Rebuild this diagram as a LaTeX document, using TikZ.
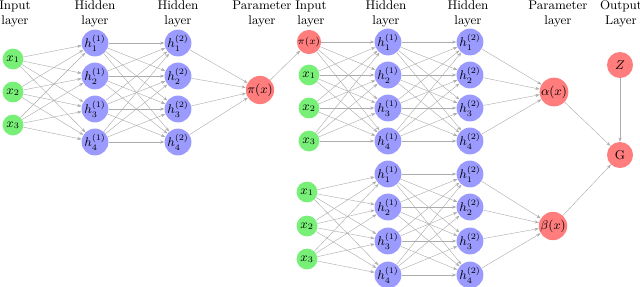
\documentclass[tikz,border=0pt]{standalone}
\usetikzlibrary{arrows.meta}
\definecolor{ingreen}{RGB}{120,240,120}
\definecolor{hidblue}{RGB}{155,155,255}
\definecolor{parred}{RGB}{255,125,125}
\begin{document}
\begin{tikzpicture}[x=0.025cm,y=-0.025cm,>={Stealth[length=3pt,width=2.2pt]},
  neuron/.style={circle,inner sep=0pt,minimum size=0.52cm,font=\small},
  inputn/.style={neuron,fill=ingreen},
  hiddenn/.style={neuron,fill=hidblue},
  paramn/.style={neuron,fill=parred,minimum size=0.62cm},
  edge/.style={->,gray!65,line width=0.3pt},
  lab/.style={align=center,font=\small,inner sep=0pt}]
\useasboundingbox (0,0) rectangle (640,286);
% layer labels
\node[lab] at (15,14) {Input\\layer};
\node[lab] at (95,14) {Hidden\\layer};
\node[lab] at (178,14) {Hidden\\layer};
\node[lab] at (262,14) {Parameter\\layer};
\node[lab] at (311,14) {Input\\layer};
\node[lab] at (386,14) {Hidden\\layer};
\node[lab] at (468,14) {Hidden\\layer};
\node[lab] at (558,14) {Parameter\\layer};
\node[lab] at (621,14) {Output\\Layer};
% left network
\foreach \i/\y in {1/59,2/92,3/125}
  \node[inputn] (a\i) at (13,\y) {$x_{\i}$};
\foreach \i/\y in {1/43,2/76,3/109,4/142}
  \node[hiddenn] (b\i) at (95,\y) {$h^{(1)}_{\i}$};
\foreach \i/\y in {1/43,2/76,3/109,4/142}
  \node[hiddenn] (c\i) at (178,\y) {$h^{(2)}_{\i}$};
\node[paramn] (pi) at (260,90) {$\pi(x)$};
\foreach \i in {1,2,3}
  \foreach \j in {1,...,4}
    \draw[edge] (a\i) -- (b\j);
\foreach \i in {1,...,4}
  \foreach \j in {1,...,4}
    \draw[edge] (b\i) -- (c\j);
\foreach \i in {1,...,4}
  \draw[edge] (c\i) -- (pi);
% right top network
\node[neuron,fill=parred,font=\scriptsize] (tx0) at (309,42) {$\pi(x)$};
\foreach \i/\y in {1/75,2/108,3/141}
  \node[inputn] (tx\i) at (309,\y) {$x_{\i}$};
\foreach \i/\y in {1/42,2/75,3/108,4/141}
  \node[hiddenn] (th\i) at (388,\y) {$h^{(1)}_{\i}$};
\foreach \i/\y in {1/42,2/75,3/108,4/141}
  \node[hiddenn] (tk\i) at (470,\y) {$h^{(2)}_{\i}$};
\node[paramn] (al) at (554,92) {$\alpha(x)$};
\foreach \i in {0,...,3}
  \foreach \j in {1,...,4}
    \draw[edge] (tx\i) -- (th\j);
\foreach \i in {1,...,4}
  \foreach \j in {1,...,4}
    \draw[edge] (th\i) -- (tk\j);
\foreach \i in {1,...,4}
  \draw[edge] (tk\i) -- (al);
\draw[edge] (pi) -- (tx0);
% right bottom network
\foreach \i/\y in {1/192,2/226,3/259}
  \node[inputn] (bx\i) at (307,\y) {$x_{\i}$};
\foreach \i/\y in {1/174,2/207,3/241,4/275}
  \node[hiddenn] (bh\i) at (388,\y) {$h^{(1)}_{\i}$};
\foreach \i/\y in {1/174,2/207,3/241,4/275}
  \node[hiddenn] (bk\i) at (470,\y) {$h^{(2)}_{\i}$};
\node[paramn] (be) at (553,226) {$\beta(x)$};
\foreach \i in {1,2,3}
  \foreach \j in {1,...,4}
    \draw[edge] (bx\i) -- (bh\j);
\foreach \i in {1,...,4}
  \foreach \j in {1,...,4}
    \draw[edge] (bh\i) -- (bk\j);
\foreach \i in {1,...,4}
  \draw[edge] (bk\i) -- (be);
% output layer
\node[paramn,minimum size=0.65cm] (z) at (620,65) {$Z$};
\node[paramn,minimum size=0.65cm] (g) at (620,155) {G};
\draw[edge] (z) -- (g);
\draw[edge] (al) -- (g);
\draw[edge] (be) -- (g);
\end{tikzpicture}
\end{document}
